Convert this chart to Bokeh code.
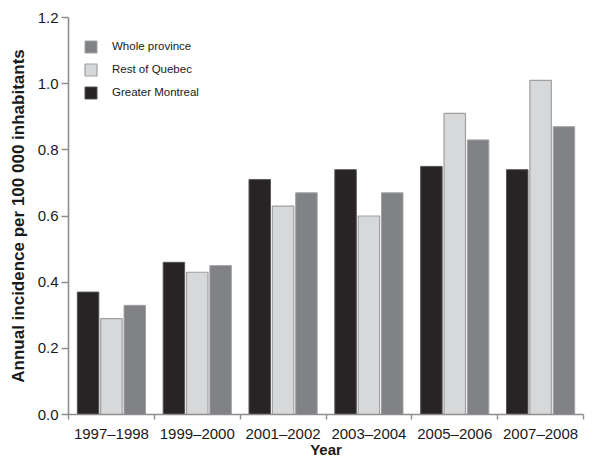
from bokeh.plotting import figure
from bokeh.models import ColumnDataSource, Range1d, FixedTicker, PrintfTickFormatter, Legend, LegendItem
from bokeh.transform import dodge
from bokeh.embed import file_html
from bokeh.resources import INLINE

periods = ["1997\u20131998", "1999\u20132000", "2001\u20132002", "2003\u20132004", "2005\u20132006", "2007\u20132008"]
greater_montreal = [0.37, 0.46, 0.71, 0.74, 0.75, 0.74]
rest_of_quebec = [0.29, 0.43, 0.63, 0.60, 0.91, 1.01]
whole_province = [0.33, 0.45, 0.67, 0.67, 0.83, 0.87]
y_ticks = [0.0, 0.2, 0.4, 0.6, 0.8, 1.0, 1.2]

idx = list(range(len(periods)))
src = ColumnDataSource(dict(x=idx, gm=greater_montreal, rq=rest_of_quebec, wp=whole_province))

p = figure(width=593, height=460, output_backend="svg", toolbar_location=None,
           x_range=Range1d(-0.5, len(periods) - 0.5), y_range=Range1d(0, 1.2),
           min_border_left=68, min_border_right=10, min_border_top=17, min_border_bottom=46)

FONT = "Liberation Sans"
C_GM = "#282425"
C_RQ = "#d7d8da"
C_WP = "#818286"
EDGE = "#a0a0a0"

bw = 0.25
off = 0.272
r_gm = p.vbar(x=dodge("x", -off), top="gm", width=bw, source=src, fill_color=C_GM, line_color="#555555", line_width=1)
r_rq = p.vbar(x=dodge("x", 0.0), top="rq", width=bw, source=src, fill_color=C_RQ, line_color=EDGE, line_width=1.2)
r_wp = p.vbar(x=dodge("x", off), top="wp", width=bw, source=src, fill_color=C_WP, line_color=EDGE, line_width=1)

p.xgrid.visible = False
p.ygrid.visible = False
p.outline_line_color = None

AX = "#8e8e8e"
for ax in (p.xaxis[0], p.yaxis[0]):
    ax.axis_line_color = AX
    ax.axis_line_width = 1.6
    ax.major_tick_line_color = AX
    ax.minor_tick_line_color = AX
    ax.major_tick_line_width = 1.4
    ax.minor_tick_line_width = 1.4
    ax.major_label_text_font = FONT
    ax.major_label_text_font_size = "15px"
    ax.major_label_text_color = "#1a1a1a"
    ax.axis_label_text_font = FONT
    ax.axis_label_text_font_style = "bold"
    ax.axis_label_text_color = "#1a1a1a"

xa = p.xaxis[0]
xa.ticker = FixedTicker(ticks=idx, minor_ticks=[i - 0.5 for i in range(len(periods) + 1)])
xa.major_label_overrides = {i: lab for i, lab in zip(idx, periods)}
xa.major_tick_out = 0
xa.major_tick_in = 0
xa.minor_tick_out = 5
xa.minor_tick_in = 0
xa.major_label_standoff = 5
xa.axis_label = "Year"
xa.axis_label_text_font_size = "15px"
xa.axis_label_standoff = -4

ya = p.yaxis[0]
ya.ticker = FixedTicker(ticks=y_ticks)
ya.formatter = PrintfTickFormatter(format="%.1f")
ya.major_tick_out = 7
ya.major_tick_in = 0
ya.minor_tick_out = 0
ya.minor_tick_in = 0
ya.major_label_standoff = 3
ya.axis_label = "Annual incidence per 100 000 inhabitants"
ya.axis_label_text_font_size = "17px"
ya.axis_label_standoff = 7

legend = Legend(items=[
    LegendItem(label="Whole province", renderers=[r_wp]),
    LegendItem(label="Rest of Quebec", renderers=[r_rq]),
    LegendItem(label="Greater Montreal", renderers=[r_gm]),
], location=(15, 312))
legend.border_line_color = None
legend.background_fill_alpha = 0
legend.margin = 0
legend.padding = 0
legend.spacing = 3
legend.label_height = 20
legend.glyph_width = 15
legend.glyph_height = 15
legend.label_standoff = 14
legend.label_text_font = FONT
legend.label_text_font_size = "11.5px"
legend.label_text_color = "#1a1a1a"
p.add_layout(legend)

open("out.html", "w").write(file_html(p, INLINE))
